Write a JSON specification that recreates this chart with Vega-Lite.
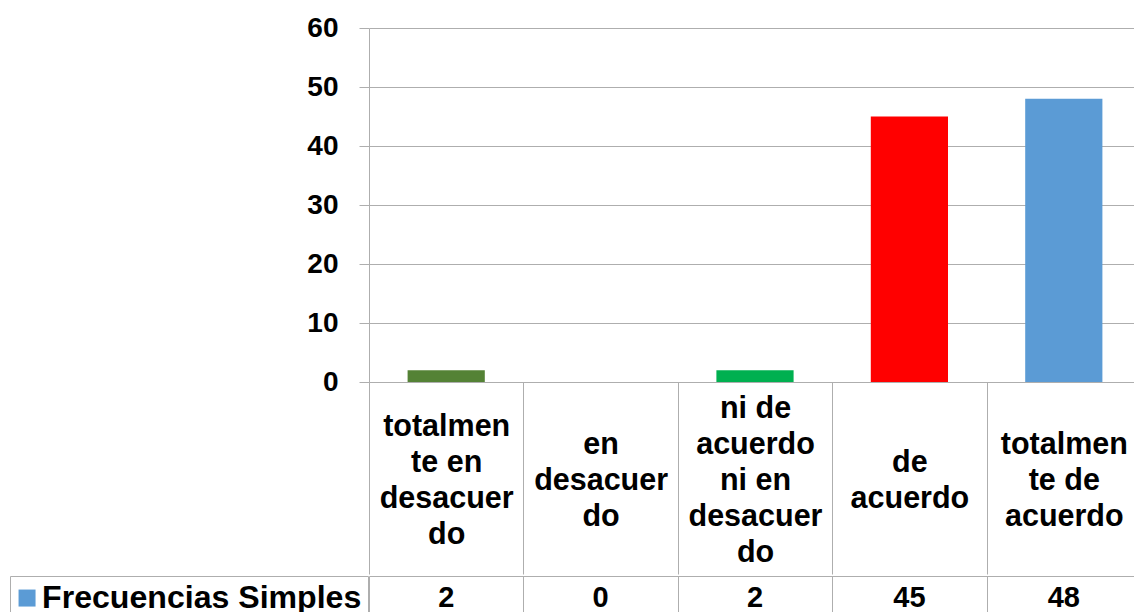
{
  "$schema": "https://vega.github.io/schema/vega-lite/v6.json",
  "padding": {"left": 9, "top": 14, "right": 0, "bottom": 0},
  "background": "white",
  "spacing": 0,
  "data": {
    "values": [
      {"categoria": "totalmente en desacuerdo", "frecuencia": 2, "serie": "Frecuencias Simples"},
      {"categoria": "en desacuerdo", "frecuencia": 0, "serie": "Frecuencias Simples"},
      {"categoria": "ni de acuerdo ni en desacuerdo", "frecuencia": 2, "serie": "Frecuencias Simples"},
      {"categoria": "de acuerdo", "frecuencia": 45, "serie": "Frecuencias Simples"},
      {"categoria": "totalmente de acuerdo", "frecuencia": 48, "serie": "Frecuencias Simples"}
    ]
  },
  "config": {"view": {"stroke": null}, "font": "Liberation Sans"},
  "resolve": {"scale": {"color": "independent"}},
  "vconcat": [
    {
      "width": 772,
      "height": 354,
      "mark": {"type": "bar", "width": {"band": 0.5}},
      "encoding": {
        "x": {
          "field": "categoria",
          "type": "nominal",
          "sort": null,
          "scale": {"paddingInner": 0, "paddingOuter": 0},
          "axis": {
            "title": null,
            "labelAngle": 0,
            "labelExpr": "datum.value == 'totalmente en desacuerdo' ? ['\u200b','totalmen','\u200b','te en','\u200b','desacuer','\u200b','do'] : datum.value == 'en desacuerdo' ? ['\u200b','\u200b','en','\u200b','desacuer','\u200b','do'] : datum.value == 'ni de acuerdo ni en desacuerdo' ? ['ni de','\u200b','acuerdo','\u200b','ni en','\u200b','desacuer','\u200b','do'] : datum.value == 'de acuerdo' ? ['\u200b','\u200b','\u200b','de','\u200b','acuerdo'] : datum.value == 'totalmente de acuerdo' ? ['\u200b','\u200b','totalmen','\u200b','te de','\u200b','acuerdo'] : ''",
            "labelFont": "Liberation Sans",
            "labelFontWeight": "bold",
            "labelFontSize": 30.5,
            "labelLineHeight": 18,
            "labelColor": "black",
            "labelBaseline": "middle",
            "labelAlign": "center",
            "labelPadding": -166,
            "labelLimit": 0,
            "labelOverlap": false,
            "labelFlush": false,
            "tickBand": "extent",
            "tickSize": 192,
            "tickColor": "#aeaeae",
            "tickWidth": 1,
            "domainColor": "#aeaeae",
            "domainWidth": 1,
            "grid": false
          }
        },
        "y": {
          "field": "frecuencia",
          "type": "quantitative",
          "scale": {"domain": [0, 60], "nice": false},
          "axis": {
            "title": null,
            "values": [0, 10, 20, 30, 40, 50, 60],
            "labelFont": "Liberation Sans",
            "labelFontWeight": "bold",
            "labelFontSize": 28,
            "labelColor": "black",
            "labelPadding": 21,
            "tickSize": 10,
            "tickColor": "#aeaeae",
            "domainColor": "#aeaeae",
            "grid": true,
            "gridColor": "#aeaeae",
            "gridOpacity": 1
          }
        },
        "color": {
          "field": "categoria",
          "type": "nominal",
          "sort": null,
          "scale": {
            "domain": ["totalmente en desacuerdo", "en desacuerdo", "ni de acuerdo ni en desacuerdo", "de acuerdo", "totalmente de acuerdo"],
            "range": ["#548235", "#5B9BD5", "#00B050", "#FF0000", "#5B9BD5"]
          },
          "legend": null
        }
      }
    },
    {
      "width": 772,
      "height": 38,
      "encoding": {
        "x": {
          "field": "categoria",
          "type": "nominal",
          "sort": null,
          "scale": {"paddingInner": 0, "paddingOuter": 0},
          "axis": {
            "orient": "top",
            "title": null,
            "labels": false,
            "ticks": false,
            "domain": true,
            "domainColor": "#aeaeae",
            "grid": true,
            "gridColor": "#aeaeae",
            "gridOpacity": 1,
            "tickBand": "extent"
          }
        }
      },
      "layer": [
        {
          "mark": {"type": "text", "font": "Liberation Sans", "fontWeight": "bold", "fontSize": 29, "color": "black", "baseline": "middle", "dy": 3},
          "encoding": {"text": {"field": "frecuencia", "type": "quantitative"}}
        },
        {
          "mark": {"type": "square", "size": 0},
          "encoding": {
            "color": {
              "field": "serie",
              "type": "nominal",
              "scale": {"range": ["#5B9BD5"]},
              "legend": {
                "title": null,
                "orient": "none",
                "legendX": -359,
                "legendY": 0,
                "strokeColor": "#aeaeae",
                "fillColor": "white",
                "padding": 6,
                "cornerRadius": 0,
                "symbolType": "square",
                "symbolSize": 289,
                "symbolStrokeWidth": 0,
                "symbolOpacity": 1,
                "symbolOffset": -5,
                "labelFont": "Liberation Sans",
                "labelFontSize": 32.1,
                "labelFontWeight": "bold",
                "labelColor": "black",
                "labelLimit": 0,
                "labelOffset": -1
              }
            }
          }
        }
      ]
    }
  ]
}
